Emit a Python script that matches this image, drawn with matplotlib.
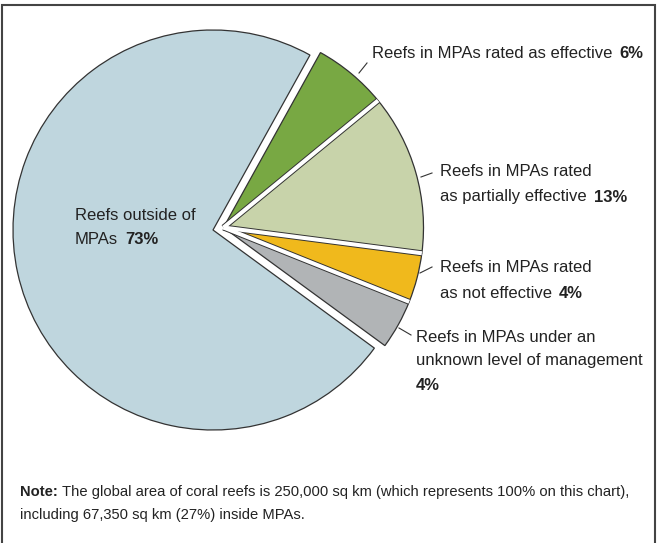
import numpy as np
import matplotlib.pyplot as plt
from matplotlib.patches import Rectangle

plt.rcParams['font.family'] = ['Liberation Sans', 'DejaVu Sans']

labels = ['Reefs in MPAs rated as effective',
          'Reefs in MPAs rated as partially effective',
          'Reefs in MPAs rated as not effective',
          'Reefs in MPAs under an unknown level of management',
          'Reefs outside of MPAs']
shares = [6, 13, 4, 4, 73]
colors = ['#78a843', '#c8d3aa', '#f0b91c', '#b1b4b6', '#bfd6de']
pulled = [True, True, True, True, False]

W, H = 657, 543
fig = plt.figure(figsize=(W / 100, H / 100), dpi=100)
ax = fig.add_axes([0, 0, 1, 1])

def py(y):
    # pixel row (top-down) -> data y
    return H - y

R = 200
cx, cy = 213, py(230)
wedges, _ = ax.pie(shares, colors=colors, startangle=61, counterclock=False,
                   center=(cx, cy), radius=R, frame=True,
                   wedgeprops=dict(edgecolor='#333333', linewidth=0.9))

# pull the MPA slices out together
gx, gy = cx + 10.5, cy + 2.5
small = [w for w, p in zip(wedges, pulled) if p]
for w in small:
    w.set_center((gx, gy))

# white gaps between the MPA slices (dark outline either side)
for w in small[:-1]:
    th = np.deg2rad(w.theta1)
    xs = [gx, gx + R * np.cos(th)]
    ys = [gy, gy + R * np.sin(th)]
    ax.plot(xs, ys, color='#333333', lw=4.3, solid_capstyle='butt', zorder=3)
for w in small[:-1]:
    th = np.deg2rad(w.theta1)
    xs = [gx, gx + R * np.cos(th)]
    ys = [gy, gy + R * np.sin(th)]
    ax.plot(xs, ys, color='white', lw=2.9, solid_capstyle='butt', zorder=4)

ax.set_xlim(0, W)
ax.set_ylim(0, H)
ax.set_aspect('equal')
ax.axis('off')

fs = 12
lc = '#222222'

def line_with_pct(x, y, txt, pct, bold_only=False):
    if bold_only:
        return ax.text(x, py(y), pct, fontsize=fs, fontweight='bold', va='center', color=lc)
    t = ax.text(x, py(y), txt, fontsize=fs, va='center', color=lc)
    if pct:
        ax.annotate(pct, xy=(1, 0), xycoords=t, xytext=(5, 0), textcoords='offset points',
                    fontsize=fs, fontweight='bold', va='bottom', color=lc)
    return t

def leader(x0, y0, x1, y1):
    ax.plot([x0, x1], [py(y0), py(y1)], color='#333333', lw=0.8)

# effective
leader(359, 73, 367, 63)
line_with_pct(372, 53, 'Reefs in MPAs rated as effective', '6%')
# partially effective
leader(421, 177, 432, 173)
line_with_pct(440, 172, 'Reefs in MPAs rated', None)
line_with_pct(440, 197, 'as partially effective', '13%')
# not effective
leader(420, 273, 432, 267)
line_with_pct(440, 268, 'Reefs in MPAs rated', None)
line_with_pct(440, 293, 'as not effective', '4%')
# unknown
leader(399, 328, 411, 335)
line_with_pct(416, 337, 'Reefs in MPAs under an', None)
line_with_pct(416, 361, 'unknown level of management', None)
line_with_pct(416, 385, '', '4%', bold_only=True)
# outside
line_with_pct(75, 215, 'Reefs outside of', None)
line_with_pct(75, 240, 'MPAs', '73%')

# note
nfs = 10.6
n = ax.text(20, py(492), 'Note:', fontsize=nfs, fontweight='bold', va='center', color=lc)
ax.annotate('The global area of coral reefs is 250,000 sq km (which represents 100% on this chart),',
            xy=(1, 0), xycoords=n, xytext=(3, 0), textcoords='offset points',
            fontsize=nfs, va='bottom', color=lc)
ax.text(20, py(515), 'including 67,350 sq km (27%) inside MPAs.', fontsize=nfs, va='center', color=lc)

# frame around figure
fig.patches.append(Rectangle((0.003, -0.01), 0.994, 1.0, transform=fig.transFigure,
                             fill=False, edgecolor='#444444', linewidth=1.5))

fig.savefig('out.png', dpi=100)
